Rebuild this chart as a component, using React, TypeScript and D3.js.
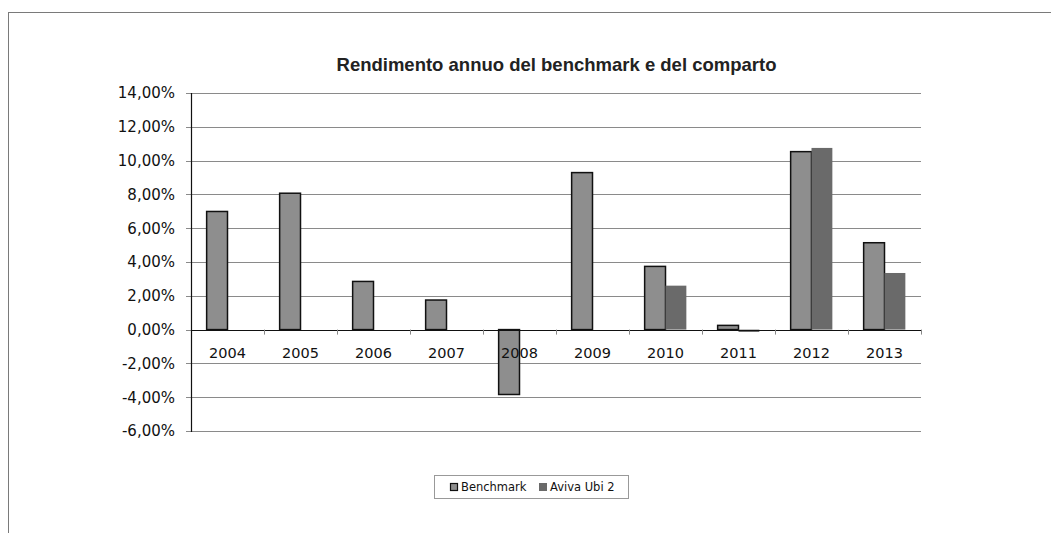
import React from "react";
import * as d3 from "d3";

const years = ["2004", "2005", "2006", "2007", "2008", "2009", "2010", "2011", "2012", "2013"];
const benchmark = [6.99, 8.07, 2.85, 1.75, -3.84, 9.29, 3.74, 0.25, 10.53, 5.14];
const aviva: (number | null)[] = [null, null, null, null, null, null, 2.6, -0.14, 10.75, 3.35];
const yTicks = [-6, -4, -2, 0, 2, 4, 6, 8, 10, 12, 14];
const seriesNames = ["Benchmark", "Aviva Ubi 2"];

const W = 1051;
const H = 533;
const plotL = 191;
const plotR = 921;
const plotT = 93;
const plotB = 431;

export default function App() {
  const x0 = d3.scaleBand<string>().domain(years).range([plotL, plotR]).padding(0);
  const step = x0.bandwidth();
  const groupW = (step * 2) / 3.5;
  const x1 = d3.scaleBand<string>().domain(seriesNames).range([0, groupW]).padding(0);
  const bw = x1.bandwidth();
  const y = d3.scaleLinear().domain([-6, 14]).range([plotB, plotT]);
  const fmt = (v: number) => v.toFixed(2).replace(".", ",") + "%";
  const y0 = y(0);

  const barRect = (cat: string, s: string, v: number) => {
    const gx = (x0(cat) as number) + (step - groupW) / 2 + (x1(s) as number);
    const top = Math.min(y(v), y0);
    const h = Math.abs(y(v) - y0);
    return { x: gx, y: top, w: bw, h };
  };

  return (
    <svg width={W} height={H} style={{ position: "absolute", left: 0, top: 0 }}>
      <rect x={0} y={0} width={W} height={H} fill="#fff" />
      {/* chart frame */}
      <line x1={8} y1={12.5} x2={W} y2={12.5} stroke="#7a7a7a" strokeWidth={1} />
      <line x1={8.5} y1={12} x2={8.5} y2={H} stroke="#7a7a7a" strokeWidth={1} />

      {/* title */}
      <text
        x={556.5}
        y={71}
        textAnchor="middle"
        fontFamily="Liberation Sans, Arial, sans-serif"
        fontWeight="bold"
        fontSize={18.5}
        fill="#222"
      >
        Rendimento annuo del benchmark e del comparto
      </text>

      {/* gridlines */}
      {yTicks.map((t) => (
        <line
          key={"g" + t}
          x1={plotL - 5}
          x2={plotR}
          y1={Math.round(y(t)) + 0.5}
          y2={Math.round(y(t)) + 0.5}
          stroke="#8a8a8a"
          strokeWidth={1}
        />
      ))}
      {/* y labels */}
      {yTicks.map((t) => (
        <text
          key={"l" + t}
          x={175}
          y={y(t)}
          dy="0.36em"
          textAnchor="end"
          fontFamily="DejaVu Sans, Verdana, sans-serif"
          fontSize={15}
          fill="#111"
        >
          {fmt(t)}
        </text>
      ))}

      {/* bars */}
      {years.map((c, i) => {
        const r = barRect(c, seriesNames[0], benchmark[i]);
        return (
          <rect
            key={"b" + c}
            x={r.x}
            y={r.y}
            width={r.w}
            height={r.h}
            fill="#8e8e8e"
            stroke="#111"
            strokeWidth={1.5}
          />
        );
      })}
      {years.map((c, i) => {
        const v = aviva[i];
        if (v === null) return null;
        const r = barRect(c, seriesNames[1], v);
        return <rect key={"a" + c} x={r.x} y={r.y} width={r.w} height={r.h} fill="#6a6a6a" />;
      })}

      {/* axes */}
      <line x1={plotL + 0.5} x2={plotL + 0.5} y1={plotT} y2={plotB + 1} stroke="#111" strokeWidth={1.2} />
      <line x1={plotL} x2={plotR} y1={Math.round(y0) + 0.5} y2={Math.round(y0) + 0.5} stroke="#111" strokeWidth={1.2} />
      {years.map((c) => {
        const xx = Math.round((x0(c) as number) + step) + 0.5;
        return <line key={"t" + c} x1={xx} x2={xx} y1={y0} y2={y0 + 5} stroke="#888" strokeWidth={1} />;
      })}

      {/* x labels */}
      {years.map((c) => (
        <text
          key={"x" + c}
          x={(x0(c) as number) + step / 2}
          y={358}
          textAnchor="middle"
          fontFamily="DejaVu Sans, Verdana, sans-serif"
          fontSize={14.5}
          fill="#111"
        >
          {c}
        </text>
      ))}

      {/* legend */}
      <rect x={434.5} y={475.5} width={194} height={23} fill="#fff" stroke="#999" strokeWidth={1} />
      <rect x={450.5} y={483.5} width={7} height={7} fill="#8e8e8e" stroke="#111" strokeWidth={1.2} />
      <text x={461} y={491} fontFamily="DejaVu Sans, Verdana, sans-serif" fontSize={11.5} fill="#111">
        {seriesNames[0]}
      </text>
      <rect x={539} y={483} width={8} height={8} fill="#6a6a6a" />
      <text x={550} y={491} fontFamily="DejaVu Sans, Verdana, sans-serif" fontSize={11.5} fill="#111">
        {seriesNames[1]}
      </text>
    </svg>
  );
}
